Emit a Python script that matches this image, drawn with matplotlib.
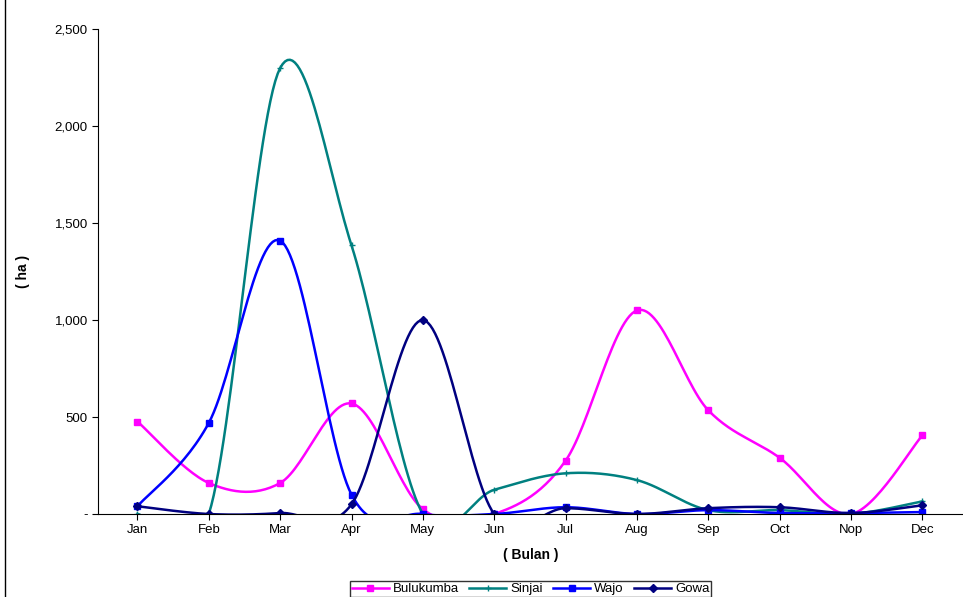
import matplotlib
matplotlib.use("Agg")
import matplotlib.pyplot as plt
import numpy as np

plt.rcParams['font.family'] = ['Liberation Sans', 'DejaVu Sans']

months = ["Jan", "Feb", "Mar", "Apr", "May", "Jun", "Jul", "Aug", "Sep", "Oct", "Nop", "Dec"]
bulukumba = [477, 160, 160, 570, 25, 0, 275, 1050, 535, 290, 0, 405]
sinjai = [0, 0, 2300, 1385, 0, 125, 210, 175, 20, 20, 0, 65]
wajo = [40, 470, 1410, 100, 0, 0, 35, 0, 20, 5, 5, 10]
gowa = [40, 0, 5, 50, 1000, 0, 30, 0, 30, 35, 5, 45]


def smooth(y, n=30):
    # Excel-style smoothed line: cubic Bezier with neighbour-based control points
    y = np.asarray(y, float)
    x = np.arange(len(y), dtype=float)
    xs, ys = [], []
    for i in range(len(y) - 1):
        p0 = (x[max(i - 1, 0)], y[max(i - 1, 0)])
        p1 = (x[i], y[i])
        p2 = (x[i + 1], y[i + 1])
        p3 = (x[min(i + 2, len(y) - 1)], y[min(i + 2, len(y) - 1)])
        c1 = (p1[0] + (p2[0] - p0[0]) / 6, p1[1] + (p2[1] - p0[1]) / 6)
        c2 = (p2[0] - (p3[0] - p1[0]) / 6, p2[1] - (p3[1] - p1[1]) / 6)
        t = np.linspace(0, 1, n)
        for k in range(2):
            pts = [p1[k], c1[k], c2[k], p2[k]]
            v = ((1 - t) ** 3 * pts[0] + 3 * (1 - t) ** 2 * t * pts[1]
                 + 3 * (1 - t) * t ** 2 * pts[2] + t ** 3 * pts[3])
            (xs if k == 0 else ys).extend(v)
    return xs, ys


fig = plt.figure(figsize=(9.63, 5.97), dpi=100)
ax = fig.add_axes([0.102, 0.139, 0.898, 0.812])

series = [
    ("Bulukumba", bulukumba, "#ff00ff", "s", 5),
    ("Sinjai", sinjai, "#008080", "+", 5),
    ("Wajo", wajo, "#0000ff", "s", 5),
    ("Gowa", gowa, "#000080", "D", 4),
]
x = np.arange(len(months))
for name, vals, col, mk, ms in series:
    sx, sy = smooth(vals)
    ax.plot(sx, sy, color=col, lw=1.8)
    ax.plot([], [], color=col, lw=1.8, marker=mk, ms=ms, label=name)
    ax.plot(x, vals, ls="none", marker=mk, ms=ms, color=col, mew=1)

ax.set_xlim(-0.55, 11.57)
ax.set_ylim(0, 2500)
ax.set_xticks(x)
ax.set_xticklabels(months)
ax.set_yticks(range(0, 2501, 500))
ax.set_yticklabels(["-"] + [f"{v:,}" for v in range(500, 2501, 500)])
ax.tick_params(labelsize=9.5, direction="out", length=4)
for s in ["top", "right"]:
    ax.spines[s].set_visible(False)
ax.set_xlabel("( Bulan )", fontsize=10, fontweight="bold", labelpad=8)
ax.set_ylabel("( ha )", fontsize=10, fontweight="bold", labelpad=18)

leg = ax.legend(loc="upper center", bbox_to_anchor=(0.5, -0.125), ncol=4,
                frameon=True, fancybox=False, edgecolor="black", fontsize=9.5,
                handlelength=2.8, borderpad=0.15, columnspacing=0.8, handletextpad=0.3)

fig.add_artist(plt.Line2D([0.005, 0.005], [0, 1], color="black", lw=1))
fig.savefig("out.png", dpi=100)
